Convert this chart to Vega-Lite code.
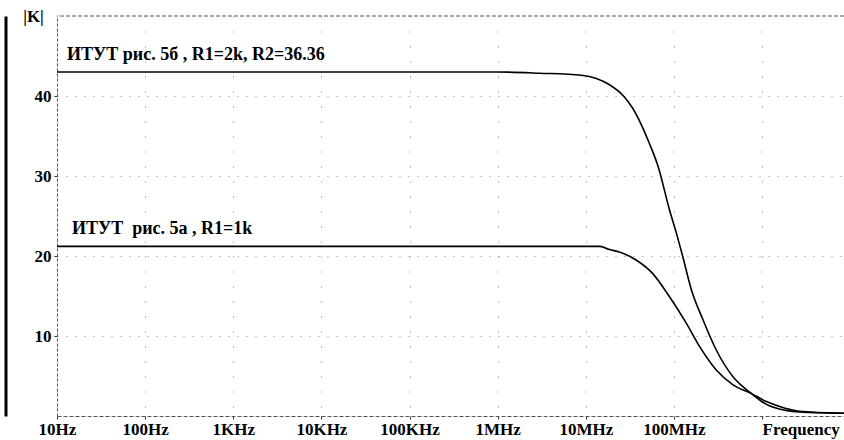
{
  "$schema": "https://vega.github.io/schema/vega-lite/v6.json",
  "autosize": {"type": "none"},
  "padding": {"left": 57, "top": 16, "right": 0, "bottom": 24},
  "width": 787,
  "height": 400,
  "background": "white",
  "config": {
    "view": {"stroke": null},
    "font": "Liberation Serif",
    "axis": {"labelFont": "Liberation Serif", "labelFontSize": 17, "labelFontWeight": "bold", "labelColor": "black", "titleFont": "Liberation Serif"}
  },
  "datasets": {
    "curves": [
      {"f": 10, "k": 43, "series": "A"},
      {"f": 1000000, "k": 43, "series": "A"},
      {"f": 3000000, "k": 42.85, "series": "A"},
      {"f": 8900000, "k": 42.6, "series": "A"},
      {"f": 13200000, "k": 42.2, "series": "A"},
      {"f": 18600000, "k": 41.4, "series": "A"},
      {"f": 26300000, "k": 40.1, "series": "A"},
      {"f": 33900000, "k": 38.5, "series": "A"},
      {"f": 42700000, "k": 36.4, "series": "A"},
      {"f": 52500000, "k": 34.1, "series": "A"},
      {"f": 66100000, "k": 31.2, "series": "A"},
      {"f": 89100000, "k": 25.75, "series": "A"},
      {"f": 107000000, "k": 22.8, "series": "A"},
      {"f": 126000000, "k": 19.9, "series": "A"},
      {"f": 158000000, "k": 15.75, "series": "A"},
      {"f": 214000000, "k": 12, "series": "A"},
      {"f": 302000000, "k": 8.25, "series": "A"},
      {"f": 468000000, "k": 4.9, "series": "A"},
      {"f": 760000000, "k": 2.8, "series": "A"},
      {"f": 1120000000, "k": 1.45, "series": "A"},
      {"f": 1860000000, "k": 0.7, "series": "A"},
      {"f": 2630000000, "k": 0.5, "series": "A"},
      {"f": 8500000000, "k": 0.35, "series": "A"},
      {"f": 10, "k": 21.2, "series": "B"},
      {"f": 1000000, "k": 21.2, "series": "B"},
      {"f": 14500000, "k": 21.2, "series": "B"},
      {"f": 18600000, "k": 20.8, "series": "B"},
      {"f": 24000000, "k": 20.5, "series": "B"},
      {"f": 37200000, "k": 19.5, "series": "B"},
      {"f": 57500000, "k": 17.8, "series": "B"},
      {"f": 89100000, "k": 14.9, "series": "B"},
      {"f": 138000000, "k": 11.6, "series": "B"},
      {"f": 195000000, "k": 8.7, "series": "B"},
      {"f": 302000000, "k": 5.75, "series": "B"},
      {"f": 468000000, "k": 3.9, "series": "B"},
      {"f": 760000000, "k": 2.8, "series": "B"},
      {"f": 1120000000, "k": 1.8, "series": "B"},
      {"f": 1860000000, "k": 0.95, "series": "B"},
      {"f": 2630000000, "k": 0.6, "series": "B"},
      {"f": 8500000000, "k": 0.35, "series": "B"}
    ],
    "labels": [
      {"f": 13.0, "k": 45.1, "text": "ИТУТ рис. 5б , R1=2k, R2=36.36"},
      {"f": 14.8, "k": 23.4, "text": "ИТУТ \u00a0рис. 5а , R1=1k"}
    ],
    "border": [{"k": 50}]
  },
  "resolve": {"axis": {"y": "independent"}},
  "layer": [
    {
      "data": {"name": "border"},
      "mark": {"type": "rule", "strokeDash": [4, 2], "color": "#555", "strokeWidth": 1},
      "encoding": {
        "y": {"field": "k", "type": "quantitative", "scale": {"domain": [0, 50]},
          "axis": {"orient": "left", "offset": 51.5, "domainWidth": 3, "domainColor": "black", "labels": false, "ticks": false, "grid": false, "title": null}}
      }
    },
    {
      "data": {"name": "curves"},
      "mark": {"type": "line", "color": "black", "strokeWidth": 1.6, "interpolate": "monotone"},
      "encoding": {
        "x": {"field": "f", "type": "quantitative",
          "scale": {"type": "log", "domain": [10, 8500000000], "nice": false},
          "axis": {
            "values": [10, 100, 1000, 10000, 100000, 1000000, 10000000, 100000000, 1000000000],
            "labelExpr": "['10Hz','100Hz','1KHz','10KHz','100KHz','1MHz','10MHz','100MHz','Frequency'][round(log(datum.value)/LN10)-1]",
            "labelAlign": {"condition": {"test": "datum.value > 500000000", "value": "left"}, "value": "center"},
            "labelPadding": 2,
            "title": null,
            "grid": true, "gridDash": [1, 14], "gridColor": "#888",
            "domainDash": [4, 2], "domainColor": "#555",
            "tickColor": "#333", "tickSize": 3,
            "labelFlush": false, "labelOverlap": false
          }},
        "y": {"field": "k", "type": "quantitative", "scale": {"domain": [0, 50]},
          "axis": {
            "orient": "left",
            "values": [10, 20, 30, 40],
            "title": "|K|", "titleAngle": 0, "titleX": -24, "titleY": 0,
            "titleAlign": "center", "titleBaseline": "middle",
            "titleFontSize": 17, "titleFontWeight": "bold", "titleColor": "black",
            "grid": true, "gridDash": [1, 8], "gridColor": "#888",
            "domainDash": [3, 2], "domainColor": "#555",
            "tickColor": "#333", "tickSize": 3, "labelPadding": 3
          }},
        "detail": {"field": "series"}
      }
    },
    {
      "data": {"name": "labels"},
      "mark": {"type": "text", "align": "left", "baseline": "middle", "font": "Liberation Serif", "fontSize": 18, "fontWeight": "bold", "color": "black"},
      "encoding": {
        "x": {"field": "f", "type": "quantitative"},
        "y": {"field": "k", "type": "quantitative", "axis": null},
        "text": {"field": "text"}
      }
    }
  ]
}
